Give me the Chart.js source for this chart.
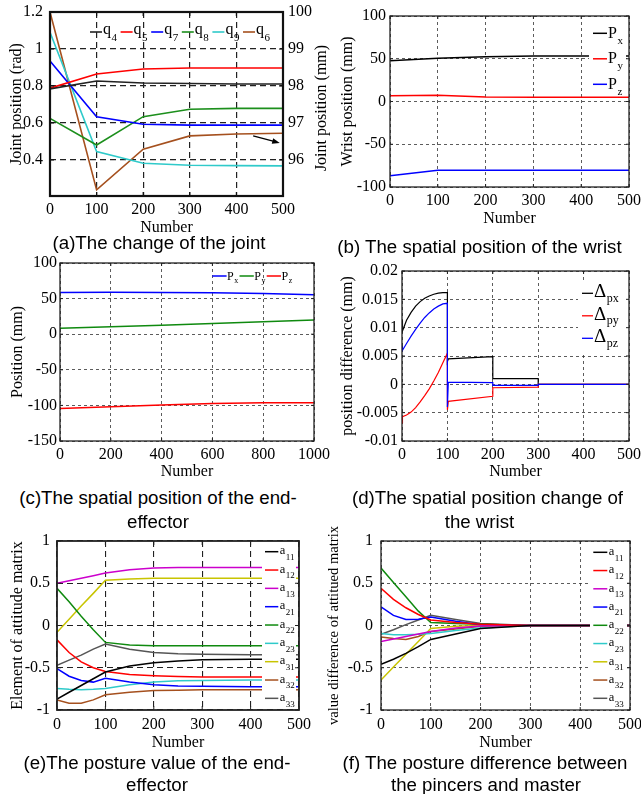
<!DOCTYPE html>
<html><head><meta charset="utf-8">
<script src="https://cdn.jsdelivr.net/npm/chart.js@4.4.1/dist/chart.umd.min.js"></script>
<style>
html,body{margin:0;padding:0;background:#fff;}
body{width:641px;height:794px;position:relative;overflow:hidden;}
canvas{position:absolute;}
.cap{position:absolute;width:320px;font-family:"Liberation Sans",Arial,sans-serif;font-size:18.7px;line-height:22px;color:#000;text-align:center;white-space:nowrap;}
</style></head><body>
<canvas id="ca"></canvas>
<canvas id="cb"></canvas>
<canvas id="cc"></canvas>
<canvas id="cd"></canvas>
<canvas id="ce"></canvas>
<canvas id="cf"></canvas>
<div class="cap" style="left:-1px;top:232px">(a)The change of the joint</div>
<div class="cap" style="left:319.5px;top:236px">(b) The spatial position of the wrist</div>
<div class="cap" style="left:-2px;top:487px">(c)The spatial position of the end-</div>
<div class="cap" style="left:-2px;top:511px">effector</div>
<div class="cap" style="left:327.5px;top:487px">(d)The spatial position change of</div>
<div class="cap" style="left:319.5px;top:511px">the wrist</div>
<div class="cap" style="left:-3px;top:752px">(e)The posture value of the end-</div>
<div class="cap" style="left:-3px;top:774px">effector</div>
<div class="cap" style="left:325px;top:752px">(f) The posture difference between</div>
<div class="cap" style="left:326px;top:774px">the pincers and master</div>
<script>
// ---------- (a) joint positions ----------
const aNumber = [0, 100, 200, 300, 400, 500];
const q4 = [0.784, 0.827, 0.816, 0.813, 0.811, 0.811];
const q5 = [0.788, 0.865, 0.892, 0.897, 0.897, 0.897];
const q7 = [0.935, 0.634, 0.593, 0.588, 0.588, 0.588];
const q8 = [0.625, 0.481, 0.634, 0.674, 0.679, 0.679];
const q9 = [1.09, 0.445, 0.382, 0.371, 0.369, 0.368];
const q6mm = [100, 95.19, 96.29, 96.65, 96.70, 96.72];
const aLabels = ['q4', 'q5', 'q7', 'q8', 'q9', 'q6'];
const aXTicks = [0, 100, 200, 300, 400, 500];
const aYTicks = [0.4, 0.6, 0.8, 1, 1.2];
const aY2Ticks = [96, 97, 98, 99, 100];
const aArrowFrom = [436, 0.53];
const aArrowTo = [493, 0.492];

// ---------- (b) wrist position ----------
const bNumber = [0, 100, 200, 300, 400, 500];
const bPx = [47.7, 50.5, 52.4, 53.2, 53.3, 53.3];
const bPy = [6.8, 7.2, 5.3, 5.1, 5.0, 5.0];
const bPz = [-86.8, -80.3, -80.3, -80.3, -80.3, -80.3];
const bLabels = ['Px', 'Py', 'Pz'];
const bXTicks = [0, 100, 200, 300, 400, 500];
const bYTicks = [-100, -50, 0, 50, 100];

// ---------- (c) end-effector position ----------
const cNumber = [0, 200, 400, 600, 800, 1000];
const cPx = [58.4, 58.8, 58.6, 58.1, 57.0, 55.5];
const cPy = [8.5, 10.5, 12.5, 15.0, 17.5, 20.0];
const cPz = [-104.3, -101.8, -99.3, -97.4, -96.4, -96.2];
const cLabels = ['Px', 'Py', 'Pz'];
const cXTicks = [0, 200, 400, 600, 800, 1000];
const cYTicks = [-150, -100, -50, 0, 50, 100];

// ---------- (d) wrist position change ----------
const dNumber = [0, 1, 10, 20, 30, 40, 50, 60, 70, 80, 90, 100, 100, 102, 200, 200, 300, 300, 500];
const dPx = [0.0113, 0.0094, 0.0113, 0.0127, 0.0138, 0.0146, 0.0152, 0.0156, 0.0159, 0.0161, 0.0162, 0.0162, 0.0040, 0.0045, 0.0049, 0.0010, 0.0010, 0.0000, 0.0000];
const dPy = [-0.0068, -0.0057, -0.0054, -0.0049, -0.0041, -0.0031, -0.0020, -0.0008, 0.0006, 0.0021, 0.0038, 0.0055, -0.0045, -0.0030, -0.0021, -0.0006, -0.0005, 0.0000, 0.0000];
const dPz = [0.0068, 0.0060, 0.0072, 0.0085, 0.0097, 0.0108, 0.0118, 0.0126, 0.0133, 0.0138, 0.0142, 0.0143, -0.0040, 0.0004, 0.0003, -0.0002, -0.0002, 0.0000, 0.0000];
const dLabels = ['Δpx', 'Δpy', 'Δpz'];
const dXTicks = [0, 100, 200, 300, 400, 500];
const dYTicks = [-0.01, -0.005, 0, 0.005, 0.01, 0.015, 0.02];

// ---------- (e) posture value ----------
const eNumber = [0, 25, 50, 75, 100, 150, 200, 250, 300, 400, 500];
const e11 = [-0.87, -0.79, -0.71, -0.63, -0.55, -0.48, -0.44, -0.42, -0.405, -0.40, -0.40];
const e12 = [-0.17, -0.32, -0.43, -0.50, -0.545, -0.58, -0.595, -0.605, -0.61, -0.61, -0.61];
const e13 = [0.50, 0.53, 0.56, 0.59, 0.62, 0.66, 0.68, 0.685, 0.685, 0.685, 0.685];
const e21 = [-0.51, -0.60, -0.65, -0.67, -0.625, -0.67, -0.70, -0.715, -0.72, -0.725, -0.725];
const e22 = [0.44, 0.28, 0.11, -0.05, -0.20, -0.23, -0.24, -0.24, -0.24, -0.24, -0.24];
const e23 = [-0.745, -0.755, -0.76, -0.755, -0.745, -0.70, -0.67, -0.655, -0.65, -0.645, -0.645];
const e31 = [-0.08, 0.075, 0.23, 0.38, 0.535, 0.55, 0.56, 0.56, 0.56, 0.56, 0.56];
const e32 = [-0.88, -0.92, -0.92, -0.88, -0.82, -0.79, -0.77, -0.765, -0.76, -0.76, -0.76];
const e33 = [-0.47, -0.41, -0.35, -0.28, -0.22, -0.28, -0.32, -0.335, -0.34, -0.345, -0.345];

// ---------- (f) posture difference ----------
const fNumber = [0, 25, 50, 75, 100, 150, 200, 300, 400, 500];
const f11 = [-0.46, -0.40, -0.33, -0.25, -0.165, -0.10, -0.035, 0, 0, 0];
const f12 = [0.44, 0.31, 0.21, 0.13, 0.065, 0.035, 0.015, 0, 0, 0];
const f13 = [-0.19, -0.16, -0.13, -0.10, -0.07, -0.03, -0.005, 0, 0, 0];
const f21 = [0.22, 0.12, 0.07, 0.075, 0.10, 0.05, 0.01, 0, 0, 0];
const f22 = [0.68, 0.51, 0.34, 0.17, 0.035, 0.025, 0.015, 0, 0, 0];
const f23 = [-0.095, -0.11, -0.11, -0.105, -0.095, -0.06, -0.03, 0, 0, 0];
const f31 = [-0.645, -0.49, -0.34, -0.19, -0.035, -0.01, 0, 0, 0, 0];
const f32 = [-0.135, -0.155, -0.165, -0.13, -0.07, -0.04, -0.01, 0, 0, 0];
const f33 = [-0.105, -0.05, 0.01, 0.065, 0.12, 0.07, 0.025, 0, 0, 0];

const mLabels = ['a11', 'a12', 'a13', 'a21', 'a22', 'a23', 'a31', 'a32', 'a33'];
const mXTicks = [0, 100, 200, 300, 400, 500];
const mYTicks = [-1, -0.5, 0, 0.5, 1];

// ---------- colours ----------
const BLACK = '#000000', RED = '#ff0000', BLUE = '#0000ff', GREEN = '#0f8a0f',
      CYAN = '#2fcaca', BROWN = '#a5501e', MAGENTA = '#cc00cc', YELLOW = '#c8c400', GRAY = '#555555';
const matColors = [BLACK, RED, MAGENTA, BLUE, GREEN, CYAN, YELLOW, BROWN, GRAY];

const SERIF = '"Liberation Serif","Times New Roman",serif';
Chart.defaults.font.family = SERIF;
Chart.defaults.font.size = 16;
Chart.defaults.color = '#000';

function ds(label, xs, ys, color, width, extra) {
  return Object.assign({
    label, data: xs.map((x, i) => ({ x, y: ys[i] })),
    borderColor: color, backgroundColor: color, borderWidth: width,
    pointRadius: 0, fill: false, tension: 0
  }, extra || {});
}

const decor = {
  id: 'decor',
  afterDatasetsDraw(chart, args, o) {
    const ctx = chart.ctx, A = chart.chartArea;
    const ox = o.offX, oy = o.offY;
    ctx.save();
    ctx.setLineDash([]);
    if (o.box) {
      ctx.fillStyle = '#fff';
      ctx.fillRect(o.box[0] - ox, o.box[1] - oy, o.box[2] - o.box[0], o.box[3] - o.box[1]);
    }
    if (o.arrow) {
      const xs = chart.scales.x, ys = chart.scales.y;
      const x1 = xs.getPixelForValue(o.arrow.from[0]), y1 = ys.getPixelForValue(o.arrow.from[1]);
      const x2 = xs.getPixelForValue(o.arrow.to[0]), y2 = ys.getPixelForValue(o.arrow.to[1]);
      const ang = Math.atan2(y2 - y1, x2 - x1);
      ctx.strokeStyle = '#000'; ctx.fillStyle = '#000'; ctx.lineWidth = 1.3;
      ctx.beginPath(); ctx.moveTo(x1, y1); ctx.lineTo(x2 - 4 * Math.cos(ang), y2 - 4 * Math.sin(ang)); ctx.stroke();
      ctx.beginPath();
      ctx.moveTo(x2, y2);
      ctx.lineTo(x2 - 8 * Math.cos(ang - 0.35), y2 - 8 * Math.sin(ang - 0.35));
      ctx.lineTo(x2 - 8 * Math.cos(ang + 0.35), y2 - 8 * Math.sin(ang + 0.35));
      ctx.closePath(); ctx.fill();
    }
    ctx.strokeStyle = o.frameColor; ctx.lineWidth = o.frameWidth;
    ctx.strokeRect(A.left, A.top, A.right - A.left, A.bottom - A.top);
    const xs = chart.scales.x, ys = chart.scales.y;
    ctx.lineWidth = o.tickWidth;
    ctx.beginPath();
    xs.ticks.forEach(t => {
      const p = xs.getPixelForValue(t.value);
      ctx.moveTo(p, A.bottom); ctx.lineTo(p, A.bottom - o.tickLen);
      ctx.moveTo(p, A.top); ctx.lineTo(p, A.top + o.tickLen);
    });
    ys.ticks.forEach(t => {
      const p = ys.getPixelForValue(t.value);
      ctx.moveTo(A.left, p); ctx.lineTo(A.left + o.tickLen, p);
      ctx.moveTo(A.right, p); ctx.lineTo(A.right - o.tickLen, p);
    });
    ctx.stroke();
    const lg = o.legend;
    if (lg) {
      chart.data.datasets.forEach((d, i) => {
        const x = lg.x - ox + (lg.mode === 'h' ? i * lg.step : 0);
        const y = lg.y - oy + (lg.mode === 'v' ? i * lg.step : 0);
        ctx.strokeStyle = d.borderColor; ctx.lineWidth = lg.lineWidth;
        ctx.beginPath(); ctx.moveTo(x, y); ctx.lineTo(x + lg.len, y); ctx.stroke();
        ctx.fillStyle = '#000'; ctx.textAlign = 'left'; ctx.textBaseline = 'alphabetic';
        const main = d.label.charAt(0), sub = d.label.slice(1);
        const tx = x + lg.len + lg.gap;
        ctx.font = lg.mainFont;
        ctx.fillText(main, tx, y + lg.mainDy);
        const w = ctx.measureText(main).width;
        ctx.font = lg.subFont;
        ctx.fillText(sub, tx + w + 0.5, y + lg.subDy);
      });
    }
    if (o.rightTitle) {
      ctx.fillStyle = '#000';
      ctx.font = '16px ' + SERIF;
      ctx.textAlign = 'center'; ctx.textBaseline = 'middle';
      ctx.translate(o.rightTitle.x - ox, o.rightTitle.y - oy);
      ctx.rotate(-Math.PI / 2);
      ctx.fillText(o.rightTitle.text, 0, 0);
    }
    ctx.restore();
  }
};

function build(id, o) {
  const { L, T, W, H } = o, P = o.plot;
  const cv = document.getElementById(id);
  cv.width = W; cv.height = H;
  cv.style.left = L + 'px'; cv.style.top = T + 'px';
  const fontT = { family: SERIF, size: 16 };
  const yTitleSize = o.yTitleSize || 16;
  const grid = { color: o.gridColor, lineWidth: o.gridWidth, drawTicks: false };
  const scales = {
    x: {
      type: 'linear', min: o.xTicks[0], max: o.xTicks[o.xTicks.length - 1],
      afterBuildTicks: s => { s.ticks = o.xTicks.map(v => ({ value: v })); },
      afterFit: s => { s.height = T + H - P.b; s.paddingLeft = 0; s.paddingRight = 0; },
      ticks: { padding: o.xPad, autoSkip: false, maxRotation: 0, minRotation: 0, color: '#000', font: fontT, callback: v => String(v) },
      grid: grid, border: { display: false, dash: o.dash },
      title: { display: true, text: 'Number', color: '#000', font: fontT, padding: { top: 0, bottom: T + H - o.xTitleY - 9.6 } }
    },
    y: {
      type: 'linear', position: 'left', min: o.yMin, max: o.yMax,
      afterBuildTicks: s => { s.ticks = o.yTicks.map(v => ({ value: v })); },
      afterFit: s => { s.width = P.l - L; s.paddingTop = 0; s.paddingBottom = 0; },
      ticks: { padding: o.yPad, autoSkip: false, color: '#000', font: fontT, callback: v => String(v) },
      grid: grid, border: { display: false, dash: o.dash },
      title: { display: true, text: o.yTitle, color: '#000', font: { family: SERIF, size: yTitleSize },
        padding: { top: o.yTitleX - L - yTitleSize * 0.6, bottom: 0 } }
    }
  };
  let padRight = L + W - P.r;
  if (o.y2) {
    scales.y1 = {
      type: 'linear', position: 'right', min: o.y2.min, max: o.y2.max,
      afterBuildTicks: s => { s.ticks = o.y2.ticks.map(v => ({ value: v })); },
      afterFit: s => { s.width = L + W - P.r; s.paddingTop = 0; s.paddingBottom = 0; },
      ticks: { padding: o.y2.pad, autoSkip: false, color: '#000', font: fontT, callback: v => String(v) },
      grid: { display: false, drawTicks: false }, border: { display: false }
    };
    padRight = 0;
  }
  new Chart(cv, {
    type: 'line',
    data: { datasets: o.datasets },
    options: {
      responsive: false, animation: false, devicePixelRatio: 1,
      layout: { padding: { top: P.t - T, right: padRight, bottom: 0, left: 0 } },
      scales,
      plugins: {
        legend: { display: false }, tooltip: { enabled: false },
        decor: Object.assign({ offX: L, offY: T }, o.decor)
      }
    },
    plugins: [decor]
  });
}

const fineGrid = { gridColor: '#333', gridWidth: 0.8, dash: [3, 3] };

// (a)
build('ca', Object.assign({
  L: 0, T: 0, W: 330, H: 240, plot: { l: 50, t: 12, r: 283, b: 196 },
  xTicks: aXTicks, yTicks: aYTicks, yMin: 0.205, yMax: 1.2,
  y2: { min: 95.025, max: 100, ticks: aY2Ticks, pad: 5 },
  xPad: 4, yPad: 7, xTitleY: 228, yTitleX: 17, yTitle: 'Joint position (rad)',
  datasets: [
    ds(aLabels[0], aNumber, q4, '#222222', 1.6),
    ds(aLabels[1], aNumber, q5, RED, 1.6),
    ds(aLabels[2], aNumber, q7, BLUE, 1.6),
    ds(aLabels[3], aNumber, q8, '#1c8f1c', 1.6),
    ds(aLabels[4], aNumber, q9, CYAN, 1.6),
    ds(aLabels[5], aNumber, q6mm, BROWN, 1.6, { yAxisID: 'y1' })
  ],
  decor: {
    frameColor: '#111', frameWidth: 2.2, tickWidth: 1.2, tickLen: 4,
    legend: { mode: 'h', x: 90, y: 32, step: 30.6, len: 12, gap: 1, lineWidth: 1.6,
      mainFont: '16px ' + SERIF, subFont: '11px ' + SERIF, mainDy: 2, subDy: 8.5 },
    arrow: { from: aArrowFrom, to: aArrowTo },
    rightTitle: { text: 'Joint position (mm)', x: 322, y: 108 }
  }
}, { gridColor: '#222', gridWidth: 1.2, dash: [6, 4] }));

// (b)
build('cb', Object.assign({
  L: 320, T: 0, W: 321, H: 232, plot: { l: 390, t: 16, r: 629, b: 187 },
  xTicks: bXTicks, yTicks: bYTicks, yMin: -100, yMax: 100,
  xPad: 4, yPad: 4, xTitleY: 219, yTitleX: 348, yTitle: 'Wrist position (mm)',
  datasets: [
    ds(bLabels[0], bNumber, bPx, BLACK, 1.5),
    ds(bLabels[1], bNumber, bPy, RED, 1.5),
    ds(bLabels[2], bNumber, bPz, BLUE, 1.5)
  ],
  decor: {
    frameColor: '#222', frameWidth: 1.3, tickWidth: 1, tickLen: 3,
    box: [589, 22, 626, 96],
    legend: { mode: 'v', x: 593, y: 33.3, step: 25.5, len: 14, gap: 1, lineWidth: 1.5,
      mainFont: '16px ' + SERIF, subFont: '11px ' + SERIF, mainDy: 4.5, subDy: 10.5 }
  }
}, fineGrid));

// (c)
build('cc', Object.assign({
  L: 0, T: 250, W: 335, H: 232, plot: { l: 60, t: 263, r: 314, b: 441 },
  xTicks: cXTicks, yTicks: cYTicks, yMin: -150, yMax: 100,
  xPad: 4, yPad: 3, xTitleY: 472, yTitleX: 18, yTitle: 'Position (mm)',
  datasets: [
    ds(cLabels[0], cNumber, cPx, BLUE, 1.5),
    ds(cLabels[1], cNumber, cPy, GREEN, 1.5),
    ds(cLabels[2], cNumber, cPz, RED, 1.5)
  ],
  decor: {
    frameColor: '#222', frameWidth: 1.3, tickWidth: 1, tickLen: 3,
    legend: { mode: 'h', x: 212.3, y: 276, step: 27.2, len: 14.3, gap: 0.5, lineWidth: 1.5,
      mainFont: '12px ' + SERIF, subFont: '8px ' + SERIF, mainDy: 3.5, subDy: 7 }
  }
}, fineGrid));

// (d)
build('cd', Object.assign({
  L: 320, T: 250, W: 321, H: 232, plot: { l: 402, t: 271, r: 629, b: 441 },
  xTicks: dXTicks, yTicks: dYTicks, yMin: -0.01, yMax: 0.02,
  xPad: 4, yPad: 4, xTitleY: 472, yTitleX: 348, yTitle: 'position difference (mm)',
  datasets: [
    ds(dLabels[0], dNumber, dPx, BLACK, 1.2, { order: 2 }),
    ds(dLabels[1], dNumber, dPy, RED, 1.2, { order: 1 }),
    ds(dLabels[2], dNumber, dPz, BLUE, 1.2, { order: 0 })
  ],
  decor: {
    frameColor: '#222', frameWidth: 1.3, tickWidth: 1, tickLen: 3,
    box: [578, 280, 628, 352],
    legend: { mode: 'v', x: 582, y: 293.3, step: 22.5, len: 11, gap: 1, lineWidth: 1.3,
      mainFont: '19px ' + SERIF, subFont: '12px ' + SERIF, mainDy: 4, subDy: 8.5 }
  }
}, fineGrid));

// (e)
const eSeries = [e11, e12, e13, e21, e22, e23, e31, e32, e33];
build('ce', Object.assign({
  L: 0, T: 525, W: 320, H: 229, plot: { l: 57, t: 541, r: 299, b: 710 },
  xTicks: mXTicks, yTicks: mYTicks, yMin: -1, yMax: 1,
  xPad: 5, yPad: 7, xTitleY: 743, yTitleX: 18, yTitle: 'Element of attitude matrix',
  datasets: eSeries.map((s, i) => ds(mLabels[i], eNumber, s, matColors[i], 1.5)),
  decor: {
    frameColor: '#222', frameWidth: 1.8, tickWidth: 1, tickLen: 4,
    box: [262, 543, 296, 708],
    legend: { mode: 'v', x: 265, y: 551.7, step: 18.33, len: 13.3, gap: 1.5, lineWidth: 1.5,
      mainFont: '12.5px ' + SERIF, subFont: '9px ' + SERIF, mainDy: 2.7, subDy: 8.3 }
  }
}, { gridColor: '#222', gridWidth: 1.1, dash: [6, 4] }));

// (f)
const fSeries = [f11, f12, f13, f21, f22, f23, f31, f32, f33];
build('cf', Object.assign({
  L: 320, T: 525, W: 321, H: 229, plot: { l: 381, t: 541, r: 630, b: 710 },
  xTicks: mXTicks, yTicks: mYTicks, yMin: -1, yMax: 1,
  xPad: 5, yPad: 8, xTitleY: 743, yTitleX: 334, yTitle: 'value difference of attitued matrix', yTitleSize: 14.6,
  datasets: fSeries.map((s, i) => ds(mLabels[i], fNumber, s, matColors[i], 1.5)),
  decor: {
    frameColor: '#222', frameWidth: 1.3, tickWidth: 1, tickLen: 3,
    box: [590, 543, 627, 708],
    legend: { mode: 'v', x: 593.3, y: 552.3, step: 18.25, len: 14, gap: 1.5, lineWidth: 1.5,
      mainFont: '12.5px ' + SERIF, subFont: '9px ' + SERIF, mainDy: 2.7, subDy: 8.3 }
  }
}, fineGrid));
</script>
</body></html>
